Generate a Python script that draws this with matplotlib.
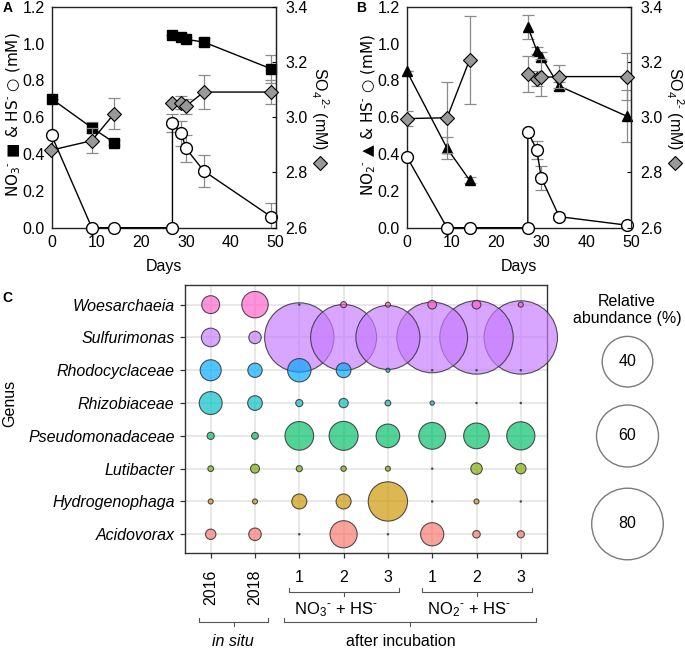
import matplotlib as mpl
mpl.use('Agg')
import matplotlib.pyplot as plt
import numpy as np
from matplotlib.colors import to_rgba

plt.rcParams['font.family'] = ['Liberation Sans', 'DejaVu Sans']
plt.rcParams['font.size'] = 11
plt.rcParams['mathtext.fontset'] = 'custom'
plt.rcParams['mathtext.rm'] = 'Liberation Sans'
plt.rcParams['mathtext.it'] = 'Liberation Sans:italic'
plt.rcParams['mathtext.bf'] = 'Liberation Sans:bold'
plt.rcParams['mathtext.default'] = 'regular'

W, H = 685, 648

# ---------------- data: panel A (NO3- + HS- incubation) ----------------
days1 = [0, 9, 14]
days2 = [27, 29, 30, 34, 49]
hs_days = [0, 9, 14, 27, 27, 29, 30, 34, 49]

a_no3_1 = [0.70, 0.543, 0.462]
a_no3_1_err = [0, 0.03, 0.015]
a_no3_2 = [1.046, 1.033, 1.023, 1.008, 0.863]
a_no3_2_err = [0, 0, 0.01, 0.02, 0.075]
a_hs = [0.503, 0, 0, 0, 0.570, 0.512, 0.431, 0.308, 0.060]
a_hs_err = [0, 0, 0, 0, 0.05, 0.066, 0.075, 0.085, 0.075]
a_so4_1 = [2.881, 2.915, 3.013]
a_so4_1_err = [0, 0.045, 0.055]
a_so4_2 = [3.050, 3.052, 3.040, 3.091, 3.091]
a_so4_2_err = [0, 0.024, 0.027, 0.06, 0.042]

# ---------------- data: panel B (NO2- + HS- incubation) ----------------
b_no2_1 = [0.851, 0.431, 0.259]
b_no2_1_err = [0, 0.06, 0.015]
b_no2_2 = [1.091, 0.961, 0.929, 0.769, 0.606]
b_no2_2_err = [0.065, 0.02, 0.025, 0.02, 0.14]
b_hs = [0.386, 0, 0, 0, 0.521, 0.422, 0.271, 0.060, 0.014]
b_hs_err = [0, 0, 0, 0, 0, 0.05, 0.065, 0.02, 0]
b_so4_1 = [2.995, 2.998, 3.207]
b_so4_1_err = [0.027, 0.128, 0.16]
b_so4_2 = [3.155, 3.139, 3.144, 3.147, 3.147]
b_so4_2_err = [0.065, 0.027, 0.067, 0.043, 0.085]

# ---------------- data: panel C (relative abundance, %) ----------------
samples = ['2016', '2018', '1', '2', '3', '1', '2', '3']
genus = ['Woesarchaeia', 'Sulfurimonas', 'Rhodocyclaceae', 'Rhizobiaceae',
         'Pseudomonadaceae', 'Lutibacter', 'Hydrogenophaga', 'Acidovorax']
genus_colors = ['#FF61CC', '#C77CFF', '#00A9FF', '#00BFC4',
                '#00BE67', '#7CAE00', '#CD9600', '#F8766D']
woesarchaeia = [5.0, 10.9, 0.03, 0.56, 0.39, 1.18, 1.18, 0.39]
sulfurimonas = [5.4, 2.4, 75, 68, 64, 78, 84, 84]
rhodocyclaceae = [6.9, 3.2, 8.5, 3.4, 0.25, 0.03, 0.03, 0.03]
rhizobiaceae = [8.2, 3.35, 0.8, 1.35, 0.51, 0.29, 0.03, 0.03]
pseudomonadaceae = [0.8, 0.72, 12.8, 13.1, 8.7, 11.2, 10.3, 12.4]
lutibacter = [0.51, 1.25, 0.58, 0.45, 0.39, 0.03, 2.04, 1.68]
hydrogenophaga = [0.39, 0.39, 3.5, 3.5, 24.1, 0.03, 0.39, 0.03]
acidovorax = [1.68, 2.44, 0.03, 11.5, 0.03, 8.4, 0.88, 0.8]
abundance = [woesarchaeia, sulfurimonas, rhodocyclaceae, rhizobiaceae,
             pseudomonadaceae, lutibacter, hydrogenophaga, acidovorax]
legend_vals = [40, 60, 80]

SIZE_PER_PCT = 33.2  # scatter area (pt^2) per % abundance
MINUS = r'^{\text{-}}'  # short hyphen-like superscript minus, as in the figure

fig = plt.figure(figsize=(W / 100, H / 100), dpi=100)


def px_rect(x0, y0, x1, y1):
    return [x0 / W, 1 - y1 / H, (x1 - x0) / W, (y1 - y0) / H]


def timecourse(rect, n1, n1e, n2, n2e, hs, hse, s1, s1e, s2, s2e, nmarker, ylab, rlab_x):
    ax = fig.add_axes(rect)
    ax2 = ax.twinx()
    for sp in ['left', 'bottom', 'top']:
        ax2.spines[sp].set_visible(False)
    eb = dict(fmt='none', ecolor='#8a8a8a', elinewidth=0.9, capsize=4, capthick=0.9, zorder=2)
    ax.errorbar(hs_days, hs, yerr=hse, **eb)
    ax.errorbar(days1, n1, yerr=n1e, **eb)
    ax.errorbar(days2, n2, yerr=n2e, **eb)
    ax2.errorbar(days1, s1, yerr=s1e, **eb)
    ax2.errorbar(days2, s2, yerr=s2e, **eb)
    lk = dict(color='black', lw=1.0, clip_on=False, zorder=3)
    nms = 7 if nmarker == 's' else 7.5
    ax.plot(days1, n1, marker=nmarker, ms=nms, mfc='black', mec='black', **lk)
    ax.plot(days2, n2, marker=nmarker, ms=nms, mfc='black', mec='black', **lk)
    ax.plot(hs_days, hs, marker='o', ms=8.5, mfc='white', mec='black', mew=1.0, **lk)
    ax2.plot(days1, s1, marker='D', ms=7, mfc='#999999', mec='black', mew=0.8, **lk)
    ax2.plot(days2, s2, marker='D', ms=7, mfc='#999999', mec='black', mew=0.8, **lk)

    ax.set_xlim(0, 50)
    ax.set_ylim(0, 1.2)
    ax2.set_ylim(2.6, 3.4)
    ax.set_xticks(np.arange(0, 51, 10))
    ax.set_yticks(np.arange(0, 1.21, 0.2))
    ax.set_yticklabels(['%.1f' % v for v in np.arange(0, 1.21, 0.2)])
    ax2.set_yticks(np.arange(2.6, 3.41, 0.2))
    ax2.set_yticklabels(['%.1f' % v for v in np.arange(2.6, 3.41, 0.2)])
    ax.tick_params(axis='both', length=0, pad=5, labelsize=11.5)
    ax2.tick_params(axis='y', direction='in', length=3, pad=7, labelsize=11.5)
    for sp in ax.spines.values():
        sp.set_linewidth(1.0)
        sp.set_color('#222222')
    ax2.spines['right'].set_color('#222222')
    ax.set_xlabel('Days', fontsize=11.5, labelpad=7)
    # marker glyphs inside the label come from DejaVu Sans (bigger shapes)
    ax.set_ylabel(ylab, fontsize=11, family=['DejaVu Sans'])
    ax.yaxis.set_label_coords(-0.17, 0.51)
    ax.yaxis.label.set_va('center')
    ax2.set_ylabel(r'SO$_4$$^{2\text{-}}$ (mM)', rotation=270, fontsize=11.5)
    ax2.yaxis.set_label_coords(rlab_x, 0.54)
    ax2.yaxis.label.set_va('center')
    ax2.plot([rlab_x], [0.294], marker='D', ms=7, mfc='#999999', mec='black', mew=0.8,
             transform=ax2.transAxes, clip_on=False)
    return ax


timecourse(px_rect(51.5, 6.7, 275.5, 227.7), a_no3_1, a_no3_1_err, a_no3_2, a_no3_2_err,
           a_hs, a_hs_err, a_so4_1, a_so4_1_err, a_so4_2, a_so4_2_err, 's',
           r'NO$_3$$' + MINUS + r'$ ■ & HS$' + MINUS + r'$ ○ (mM)', 1.2)
timecourse(px_rect(406.7, 6.7, 631.0, 227.7), b_no2_1, b_no2_1_err, b_no2_2, b_no2_2_err,
           b_hs, b_hs_err, b_so4_1, b_so4_1_err, b_so4_2, b_so4_2_err, '^',
           r'NO$_2$$' + MINUS + r'$ ▲ & HS$' + MINUS + r'$ ○ (mM)', 1.195)

fig.text(3 / W, 1 - 8 / H, 'A', fontsize=10, fontweight='bold', va='center')
fig.text(356 / W, 1 - 8 / H, 'B', fontsize=10, fontweight='bold', va='center')
fig.text(2 / W, 1 - 298 / H, 'C', fontsize=10, fontweight='bold', va='center')

# ---------------- panel C: bubble chart ----------------
axc = fig.add_axes(px_rect(185, 285.3, 546.5, 553.3))
xs, ys, ss, cs = [], [], [], []
for gi, (g, col, vals) in enumerate(zip(genus, genus_colors, abundance)):
    for si, v in enumerate(vals):
        xs.append(si)
        ys.append(len(genus) - 1 - gi)
        ss.append(v * SIZE_PER_PCT)
        cs.append(col)
order = np.argsort(ss)[::-1]
xs = np.array(xs)[order]
ys = np.array(ys)[order]
ss = np.array(ss)[order]
fc = [to_rgba(cs[i], 0.68) for i in order]
axc.scatter(xs, ys, s=ss, c=fc, edgecolors=(0.2, 0.2, 0.2, 0.85), linewidths=0.8,
            clip_on=False, zorder=3)
axc.set_xlim(-0.58, 7.58)
axc.set_ylim(-0.58, 7.59)
axc.set_xticks(range(len(samples)))
axc.set_xticklabels(samples, fontsize=11.5)
for lab in axc.get_xticklabels()[:2]:
    lab.set_rotation(90)
axc.set_yticks(range(len(genus)))
axc.set_yticklabels(genus[::-1], style='italic', fontsize=11.5)
axc.grid(True, color='#e6e6e6', lw=1.3)
axc.set_axisbelow(True)
axc.tick_params(axis='both', length=3.5, width=0.9, color='#333333')
axc.tick_params(axis='x', pad=8.5)
axc.tick_params(axis='y', pad=4)
for sp in axc.spines.values():
    sp.set_color('#333333')
    sp.set_linewidth(1.0)
fig.text(10 / W, 1 - 403 / H, 'Genus', rotation=90, fontsize=11.5, ha='center', va='center')


def bracket(ax, x0, x1, y, h=0.015, xm=None):
    tr = ax.get_xaxis_transform()
    if xm is None:
        xm = (x0 + x1) / 2
    kw = dict(transform=tr, clip_on=False, color='#555555', lw=0.8)
    ax.plot([x0, x0, x1, x1], [y + h, y, y, y + h], **kw)
    ax.plot([xm, xm], [y, y - h], **kw)


bracket(axc, 1.77, 4.26, -0.143)
bracket(axc, 4.76, 7.25, -0.143)
bracket(axc, -0.26, 1.30, -0.255)
bracket(axc, 1.66, 7.34, -0.255)
tr = axc.get_xaxis_transform()
axc.text(2.83, -0.212, r'NO$_3$$' + MINUS + r'$ + HS$' + MINUS + '$', transform=tr,
         ha='center', va='center', fontsize=12)
axc.text(5.83, -0.212, r'NO$_2$$' + MINUS + r'$ + HS$' + MINUS + '$', transform=tr,
         ha='center', va='center', fontsize=12)
axc.text(0.49, -0.33, 'in situ', style='italic', transform=tr, ha='center', va='center', fontsize=11.5)
axc.text(4.30, -0.33, 'after incubation', transform=tr, ha='center', va='center', fontsize=11.5)

# ---------------- legend ----------------
lax = fig.add_axes([0, 0, 1, 1])
lax.set_xlim(0, W)
lax.set_ylim(H, 0)
lax.axis('off')
lax.patch.set_visible(False)
lax.text(627, 310, 'Relative\nabundance (%)', ha='center', va='center', fontsize=11.5, linespacing=1.1)
leg_y = [361.7, 436, 524]
lax.scatter([627.5] * 3, leg_y, s=[v * SIZE_PER_PCT for v in legend_vals],
            facecolors='white', edgecolors='#7a7a7a', linewidths=1.0)
for v, y in zip(legend_vals, leg_y):
    lax.text(627.5, y, str(v), ha='center', va='center', fontsize=11.5)

fig.savefig('out.png', dpi=100)
